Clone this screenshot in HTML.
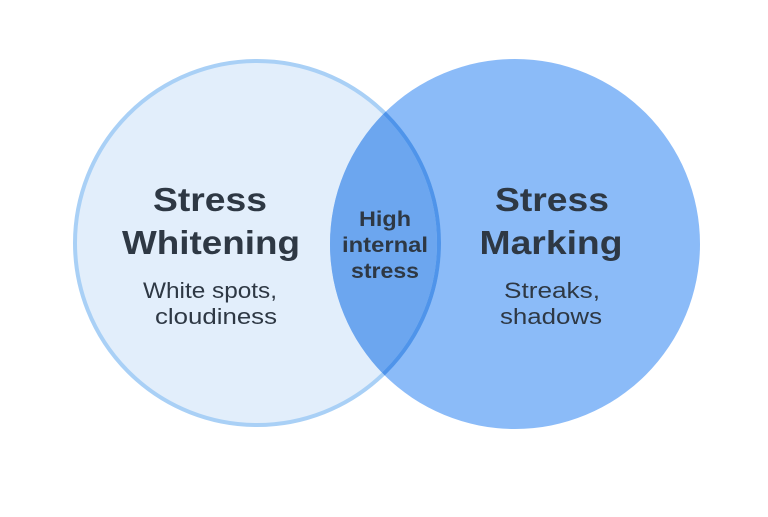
<!DOCTYPE html>
<html><head><style>body{margin:0;background:#fff}</style></head><body>
<svg width="768" height="512" xmlns="http://www.w3.org/2000/svg" font-family="Liberation Sans, sans-serif">
<defs>
<clipPath id="r"><circle cx="515" cy="244" r="185"/></clipPath>
</defs>
<circle cx="257" cy="243" r="182" fill="#e2eefb"/>
<circle cx="515" cy="244" r="185" fill="#8bbbf8"/>
<circle cx="257" cy="243" r="182" fill="#6ca6ef" clip-path="url(#r)"/>
<circle cx="257" cy="243" r="182" fill="none" stroke="#a9d0f6" stroke-width="4"/>
<circle cx="257" cy="243" r="182" fill="none" stroke="#4f94ea" stroke-width="4" clip-path="url(#r)"/>
<g fill="#2e3844" text-anchor="middle">
<text x="210" y="211" font-size="33" font-weight="bold" textLength="114" lengthAdjust="spacingAndGlyphs">Stress</text>
<text x="211" y="254" font-size="33" font-weight="bold" textLength="178" lengthAdjust="spacingAndGlyphs">Whitening</text>
<text x="210" y="298" font-size="22" textLength="134" lengthAdjust="spacingAndGlyphs">White spots,</text>
<text x="216" y="324" font-size="22" textLength="122" lengthAdjust="spacingAndGlyphs">cloudiness</text>
<text x="385" y="226" font-size="21" font-weight="bold" textLength="52" lengthAdjust="spacingAndGlyphs">High</text>
<text x="385" y="252" font-size="21" font-weight="bold" textLength="86" lengthAdjust="spacingAndGlyphs">internal</text>
<text x="385" y="278" font-size="21" font-weight="bold" textLength="68" lengthAdjust="spacingAndGlyphs">stress</text>
<text x="552" y="211" font-size="33" font-weight="bold" textLength="114" lengthAdjust="spacingAndGlyphs">Stress</text>
<text x="551" y="254" font-size="33" font-weight="bold" textLength="143" lengthAdjust="spacingAndGlyphs">Marking</text>
<text x="552" y="298" font-size="22" textLength="96" lengthAdjust="spacingAndGlyphs">Streaks,</text>
<text x="551" y="324" font-size="22" textLength="102" lengthAdjust="spacingAndGlyphs">shadows</text>
</g>
</svg>
</body></html>
